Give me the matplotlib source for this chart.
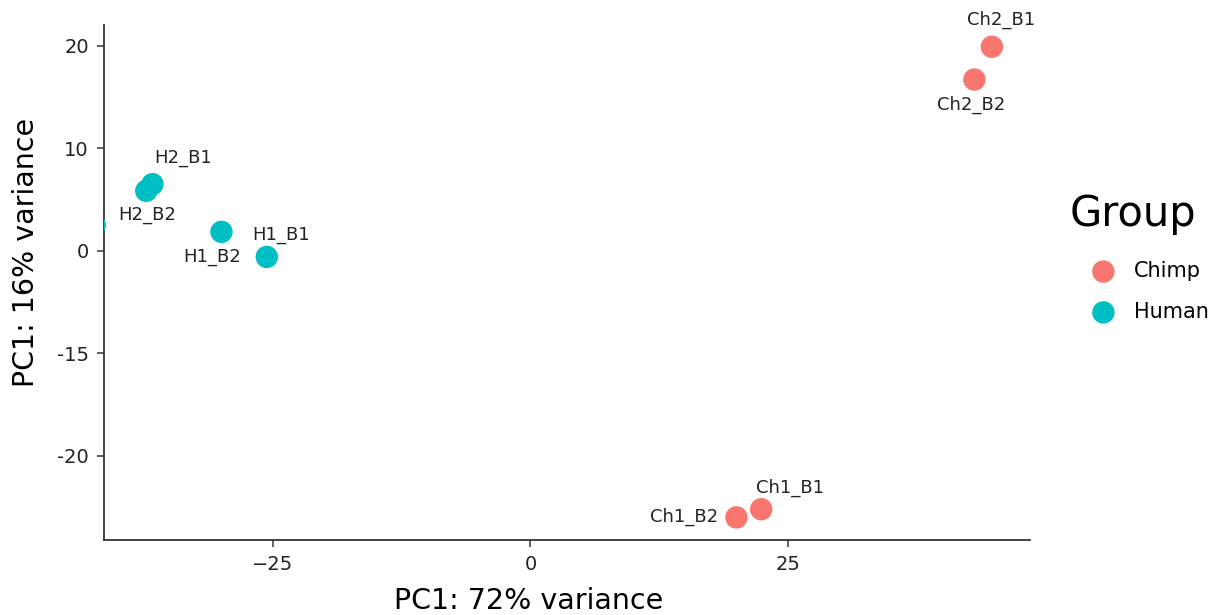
# Third party modules #
import matplotlib
matplotlib.use('Agg')
from matplotlib import pyplot

# Data #
samples = ['Ch2_B1', 'Ch2_B2', 'Ch1_B1', 'Ch1_B2',
           'H2_B1', 'H2_B2', 'H1_B1', 'H1_B2', '']
groups  = ['Chimp', 'Chimp', 'Chimp', 'Chimp',
           'Human', 'Human', 'Human', 'Human', 'Human']
pc1     = [44.8, 43.1, 22.4, 20.0, -36.7, -37.3, -25.6, -30.0, -42.3]
pc2     = [19.9, 16.7, -25.2, -26.0, 6.5, 5.85, -0.6, 1.85, 2.5]
x_ticks = [-25, 0, 25]
y_ticks = [20, 10, 0, -10, -20]
y_tick_labels = ['20', '10', '0', '-15', '-20']

# Styles #
colors = {'Chimp': '#F8766D', 'Human': '#00BFC4'}
# Label offsets in pixels relative to the point #
offsets = {'Ch2_B1': (9, 27),  'Ch2_B2': (-3, -25),
           'Ch1_B1': (29, 21), 'Ch1_B2': (-52, 1),
           'H2_B1':  (31, 26), 'H2_B2':  (1, -24),
           'H1_B1':  (14, 22), 'H1_B2':  (-9, -25)}
dark = '#333333'

################################################################################
fig = pyplot.figure(figsize=(12.24, 6.15), dpi=100)
axes = fig.add_axes([0.085, 0.122, 0.7565, 0.837])

for g in ['Chimp', 'Human']:
    xs = [x for x, gg in zip(pc1, groups) if gg == g]
    ys = [y for y, gg in zip(pc2, groups) if gg == g]
    axes.scatter(xs, ys, s=260, color=colors[g], label=g, edgecolors='none',
                 zorder=3, clip_on=True)

for name, x, y in zip(samples, pc1, pc2):
    if not name: continue
    axes.annotate(name, (x, y), xytext=offsets[name], textcoords='offset pixels',
                  ha='center', va='center', fontsize=13, color='#222222')

# Axes #
axes.set_xlim(-41.4, 48.5)
axes.set_ylim(-28.2, 22.0)
axes.set_xticks(x_ticks)
axes.set_yticks(y_ticks)
axes.set_yticklabels(y_tick_labels)
for side in ['top', 'right']: axes.spines[side].set_visible(False)
for side in ['left', 'bottom']:
    axes.spines[side].set_color(dark)
    axes.spines[side].set_linewidth(1.3)
axes.tick_params(axis='both', colors=dark, length=5, width=1.1, labelsize=14,
                 labelcolor='#222222', pad=6)
axes.set_xlabel("PC1: 72% variance", fontsize=20.5, labelpad=9, x=0.459)
axes.set_ylabel("PC1: 16% variance", fontsize=20.5, labelpad=12, y=0.559)

# Legend #
leg = axes.legend(title='Group', loc='upper left', bbox_to_anchor=(1.032, 0.695),
                  frameon=False, fontsize=15, title_fontsize=30, markerscale=1.0,
                  handlelength=3.2, handletextpad=-0.15, labelspacing=1.0, borderpad=0)
leg._legend_box.align = 'left'
leg._legend_box.sep = 19

fig.savefig('out.png', dpi=100)
pyplot.close(fig)
